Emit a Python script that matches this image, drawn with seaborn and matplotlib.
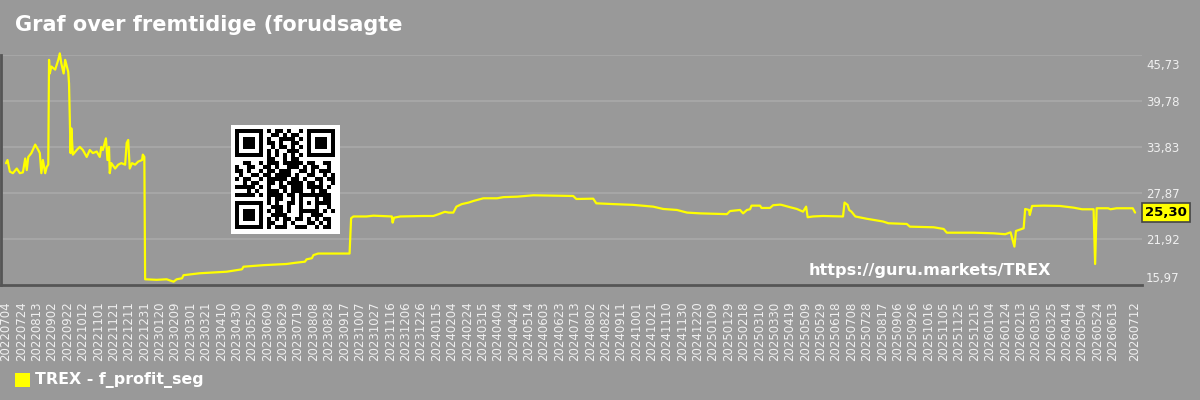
import numpy as np
import pandas as pd
import matplotlib
matplotlib.use("Agg")
import matplotlib.pyplot as plt
import matplotlib.transforms as mtransforms
from matplotlib.patches import Rectangle
import seaborn as sns

# ---------------- data ----------------
start_date = "2022-07-04"
series_name = "TREX - f_profit_seg"
title_text = "Graf over fremtidige (forudsagte"
watermark = "https://guru.markets/TREX"
last_value = 25.30

day_offsets = [
    0, 2, 5, 9, 14, 18, 22, 25, 27, 29, 33, 38, 42, 44, 46, 48, 51, 53, 55,
    56, 57, 59, 64, 68, 70, 72, 75, 77, 81, 82, 84, 85, 87, 92, 96, 100, 105,
    109, 113, 118, 122, 124, 126, 130, 132, 134, 135, 137, 142, 146, 150, 155,
    157, 159, 161, 164, 168, 172, 177, 178, 180, 181, 196, 209, 218, 222, 229,
    231, 252, 287, 307, 309, 335, 365, 376, 389, 391, 398, 400, 406, 447, 449,
    452, 469, 478, 502, 503, 505, 513, 543, 556, 563, 571, 576, 582, 586, 593,
    602, 608, 621, 639, 647, 665, 686, 712, 738, 742, 764, 768, 790, 816, 842,
    855, 873, 886, 903, 938, 942, 955, 959, 964, 968, 970, 981, 983, 994, 998,
    1007, 1009, 1020, 1029, 1037, 1041, 1043, 1050, 1063, 1089, 1091, 1095,
    1097, 1100, 1105, 1120, 1141, 1148, 1172, 1176, 1207, 1220, 1224, 1259,
    1285, 1300, 1307, 1312, 1314, 1324, 1326, 1331, 1332, 1335, 1350, 1371,
    1389, 1400, 1415, 1417, 1419, 1434, 1437, 1445, 1466, 1469,
]
values = [
    31.69, 32.1, 30.6, 30.4, 31.0, 30.4, 30.5, 32.3, 30.8, 32.5, 33.0, 34.1,
    33.4, 33.0, 30.4, 32.1, 30.4, 31.2, 31.5,
    45.06, 43.3, 44.2, 43.8, 45.06, 45.9, 44.6, 43.3, 45.06, 43.5, 42.0,
    33.0, 36.2, 32.8, 33.4, 33.8, 33.4, 32.5, 33.4, 33.0, 33.2, 32.5, 33.8,
    33.4, 34.9, 32.1, 33.8, 30.4, 31.7, 31.0, 31.5, 31.7, 31.5, 34.3, 34.7,
    31.0, 31.7, 31.5, 31.9, 32.1, 32.8, 32.5,
    16.67, 16.6, 16.67, 16.36, 16.67, 16.8, 17.2, 17.45, 17.65, 17.96, 18.3,
    18.5, 18.65, 18.8, 18.95, 19.25, 19.4, 19.8, 20.0, 20.0,
    24.57, 24.8, 24.8, 24.9, 24.8, 24.0, 24.64, 24.8, 24.86, 24.86, 25.1,
    25.4, 25.3, 25.3, 26.07, 26.4, 26.6, 26.8, 27.15, 27.15, 27.3, 27.36,
    27.54, 27.5, 27.45, 27.06, 27.1, 26.5, 26.4, 26.3, 26.07, 25.77, 25.64,
    25.3, 25.2, 25.1, 25.5, 25.64, 25.2, 25.64, 25.73, 26.2, 26.2, 25.9,
    25.9, 26.25, 26.33, 26.3, 26.0, 25.77, 25.42, 26.07, 24.7, 24.8, 24.86,
    24.8, 26.6, 26.3, 25.64, 25.42, 24.8, 24.5, 24.15, 23.92, 23.83, 23.48,
    23.4, 23.18, 22.7, 22.7, 22.62, 22.5, 22.75, 20.9, 22.92, 23.27, 25.77,
    25.64, 24.99, 26.16, 26.2, 26.16, 25.94, 25.73, 25.73, 18.65, 25.86,
    25.86, 25.73, 25.86, 25.86, 25.3,
]

x_tick_labels = [
    "20220704", "20220724", "20220813", "20220902", "20220922", "20221012",
    "20221101", "20221121", "20221211", "20221231", "20230120", "20230209",
    "20230301", "20230321", "20230410", "20230430", "20230520", "20230609",
    "20230629", "20230719", "20230808", "20230828", "20230917", "20231007",
    "20231027", "20231116", "20231206", "20231226", "20240115", "20240204",
    "20240224", "20240315", "20240404", "20240424", "20240514", "20240603",
    "20240623", "20240713", "20240802", "20240822", "20240911", "20241001",
    "20241021", "20241110", "20241130", "20241220", "20250109", "20250129",
    "20250218", "20250310", "20250330", "20250419", "20250509", "20250529",
    "20250618", "20250708", "20250728", "20250817", "20250906", "20250926",
    "20251016", "20251105", "20251125", "20251215", "20260104", "20260124",
    "20260213", "20260305", "20260325", "20260414", "20260504", "20260524",
    "20260613", "20260712",
]
y_ticks = [15.97, 21.92, 27.87, 33.83, 39.78, 45.73]

qr_rows = [
    "#######.#.##.#..#.#######",
    "#.....#..##.#.##..#.....#",
    "#.###.#.#..####.#.#.###.#",
    "#.###.#.##.#..##..#.###.#",
    "#.###.#..#.##.#.#.#.###.#",
    "#.....#.#.#..###..#.....#",
    "#######.#.#.#.#.#.#######",
    "........##..#.##.........",
    "..##..#.###.#####.##..##.",
    "#..##..##.#..###.#.##..#.",
    "##.#..#.##.###..##.#.###.",
    ".#..##.##.####.#..##..#.#",
    "#.##..#.#####.##.#..##.##",
    "..#.##..##.#.####.##.#..#",
    "#####.#.#..##.###.####.#.",
    "...#.#..###.#.###..#.##..",
    "#####.#.####.##.########.",
    "........#.##..#.#...#.##.",
    "#######.#.#..##.#.#.####.",
    "#.....#..###.#..#...#..#.",
    "#.###.#.#.##.#..#####.#.#",
    "#.###.#..####...#..###...",
    "#.###.#.#.#.##.##.#.#.##.",
    "#.....#.##..#.#...##.#.#.",
    "#######.#.###..###..#.##.",
]

# ---------------- style ----------------
BG = "#999999"
GRID = "#a8a8a8"
TXT = "#f0f0f0"
YELLOW = "#ffff00"

sns.set_style("white", {"axes.facecolor": BG, "figure.facecolor": BG})
plt.rcParams["font.family"] = ["DejaVu Sans"]

df = pd.DataFrame({"day": day_offsets, "value": values})

fig = plt.figure(figsize=(12, 4), dpi=100)
fig.patch.set_facecolor(BG)
W, H = 1200, 400
ax_l, ax_r, ax_t, ax_b = 1, 1142, 54.7, 284.7
ax = fig.add_axes([ax_l / W, 1 - ax_b / H, (ax_r - ax_l) / W, (ax_b - ax_t) / H])
ax.set_facecolor(BG)

sns.lineplot(data=df, x="day", y="value", ax=ax, color=YELLOW, linewidth=1.6,
             legend=False, clip_on=False, zorder=3)

start = pd.Timestamp(start_date)
tick_pos = [(pd.to_datetime(s, format="%Y%m%d") - start).days for s in x_tick_labels]

ax.set_xlim(-6.5, 1478)
ax.set_ylim(y_ticks[0], y_ticks[-1])
ax.set_xticks(tick_pos)
ax.set_xticklabels(x_tick_labels, rotation=90, fontsize=8.5, color=TXT)
ax.tick_params(axis="x", length=0, pad=12)

ax.yaxis.tick_right()
ax.set_yticks(y_ticks)
ax.set_yticklabels([f"{v:.2f}".replace(".", ",") for v in y_ticks],
                   fontsize=8.5, color=TXT)
ax.tick_params(axis="y", length=0, pad=3)
ylabels = ax.get_yticklabels()
ylabels[0].set_va("bottom")
ylabels[-1].set_va("top")
for lab in ylabels[-1:]:
    lab.set_transform(lab.get_transform() + mtransforms.ScaledTranslation(0, -4 / 100, fig.dpi_scale_trans))

ax.set_xlabel("")
ax.set_ylabel("")
ax.grid(axis="y", color=GRID, linewidth=1.3)
ax.grid(axis="x", visible=False)
for s in ["top", "right"]:
    ax.spines[s].set_visible(False)
for s in ["left", "bottom"]:
    ax.spines[s].set_color("#555555")
    ax.spines[s].set_linewidth(2)
    ax.spines[s].set_zorder(4)

# last value box
trans = mtransforms.blended_transform_factory(ax.transAxes, ax.transData)
ax.text(1.0025, last_value, f"{last_value:.2f}".replace(".", ","), transform=trans,
        ha="left", va="center", fontsize=9.5, fontweight="bold", color="black",
        bbox=dict(boxstyle="square,pad=0.25", facecolor=YELLOW, edgecolor="#444444",
                  linewidth=1.2), zorder=6, clip_on=False)

# title, watermark, legend
fig.text(15 / W, 1 - 25 / H, title_text, ha="left", va="center", fontsize=15,
         fontweight="bold", color="white")
fig.text(930 / W, 1 - 270 / H, watermark, ha="center", va="center", fontsize=11.6,
         fontweight="bold", color="white", zorder=7)
fig.patches.append(Rectangle((15 / W, 1 - 387 / H), 15 / W, 14 / H, transform=fig.transFigure,
                             facecolor=YELLOW, edgecolor="none"))
fig.text(35 / W, 1 - 380 / H, series_name, ha="left", va="center", fontsize=11.4,
         fontweight="bold", color="white")

# QR code decoration
qr = np.array([[1 if c == "#" else 0 for c in row] for row in qr_rows])
qx0, qy0, qw, qh = 230, 125, 110, 109
qax = fig.add_axes([qx0 / W, 1 - (qy0 + qh) / H, qw / W, qh / H])
qax.set_facecolor("white")
n = qr.shape[0]
m = (qw / 4.0 - n) / 2.0
qax.imshow(1 - qr, cmap="gray", vmin=0, vmax=1, interpolation="nearest",
           extent=(m, m + n, m + n, m))
qax.set_xlim(0, n + 2 * m)
qax.set_ylim(n + 2 * m, 0)
qax.set_xticks([])
qax.set_yticks([])
for s in qax.spines.values():
    s.set_visible(False)

fig.savefig("out.png", dpi=100, facecolor=BG)
